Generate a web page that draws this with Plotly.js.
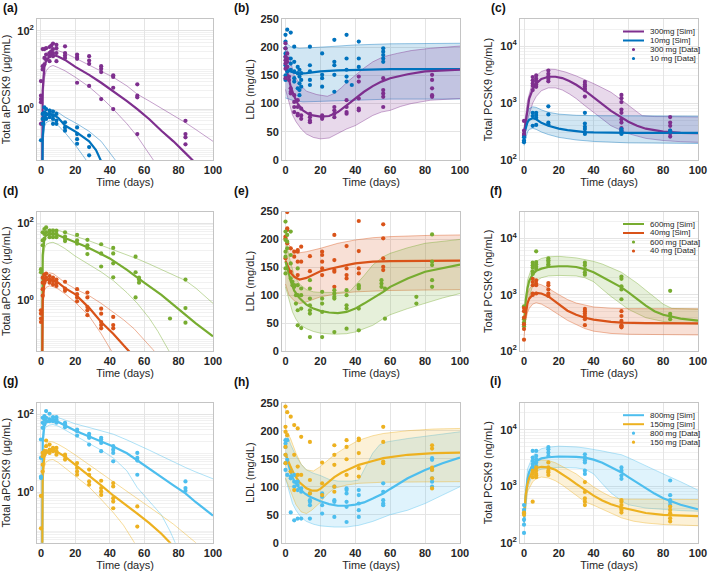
<!DOCTYPE html>
<html><head><meta charset="utf-8">
<script src="https://cdn.plot.ly/plotly-3.0.1.min.js"></script>
<style>html,body{margin:0;padding:0;background:#fff}#chart{width:709px;height:572px}</style>
</head><body><div id="chart"></div>
<script>
// ================= DATA =================
const xTicks=[0,20,40,60,80,100];
const xTickText=['0','20','40','60','80','100'];
const ldlTicks=[0,50,100,150,200,250];
const ldlTickText=['0','50','100','150','200','250'];
const apTickVals=[1,100];
const apTickText=['10<sup>0</sup>','10<sup>2</sup>'];
const pcTickVals=[100,1000,10000];
const pcTickText=['10<sup>2</sup>','10<sup>3</sup>','10<sup>4</sup>'];
const panelLabels=['(a)','(b)','(c)','(d)','(e)','(f)','(g)','(h)','(i)'];
const yTitles=['Total aPCSK9 (μg/mL)','LDL (mg/dL)','Total PCSK9 (ng/mL)'];
const xTitle='Time (days)';
const legendC=['300mg [Sim]','10mg [Sim]','300 mg [Data]','10 mg [Data]'];
const legendF=['600mg [Sim]','40mg [Sim]','600 mg [Data]','40 mg [Data]'];
const legendI=['800mg [Sim]','150mg [Sim]','800 mg [Data]','150 mg [Data]'];

// ---- (a) aPCSK9, 300 mg & 10 mg ----
const a300MedT=[0.7,1,2,3,5,7,10,14,20,28,35,42,50,56,63,70,77,84,90,100];
const a300MedV=[0.01,3,12,17,22,24,22,18,12,7.5,4.7,2.9,1.6,1.0,0.55,0.28,0.15,0.075,0.04,0.015];
const a300UpT=[0.7,1,2,3,5,7,10,14,20,28,35,42,50,56,63,70,77,84,90,100];
const a300UpV=[0.01,5,20,26,31,33,31,27,20,13.5,9.5,6.5,3.9,2.4,1.6,1.05,0.7,0.45,0.3,0.15];
const a300LoT=[0.7,1,2,3,5,7,10,14,20,28,35,42,50,56,60,65,70,75];
const a300LoV=[0.01,1.5,6,9.5,12,13,11.5,9.5,6.5,3.7,2.0,1.0,0.42,0.2,0.11,0.055,0.025,0.01];
const a10MedT=[0.7,1,2,3,5,7,10,14,21,28,32,35,38,42];
const a10MedV=[0.001,0.2,0.55,0.68,0.75,0.72,0.6,0.38,0.25,0.15,0.09,0.05,0.025,0.01];
const a10UpT=[0.7,1,2,3,5,7,10,14,21,28,35,40,44,48];
const a10UpV=[0.001,0.3,0.75,0.9,1.0,0.95,0.82,0.62,0.42,0.27,0.15,0.08,0.045,0.02];
const a10LoT=[0.7,1,2,3,5,7,10,14,20,24,27,30];
const a10LoV=[0.001,0.1,0.35,0.45,0.5,0.48,0.38,0.25,0.12,0.07,0.045,0.02];
const a300DataT=[0,1,2,3,5,6,7,9,14,21,28,35,42,56,84];
const a300DataV=[[5.2,2.2,1.8,1.5,0.42],[34,12.5,10.3],[34,20.3,13.8],[36,24.7,18.5],[38.5,27,22.4,16.7],[41.7,30,24.7],[47,34,27,22.4],[44,36,27,16.7],[40,27,23.3,20.3],[24.7,21.5,19.2,4.7],[22.4,17.4,14.3,3.9],[12.5,10.7,8.8,1.8],[7.3,6.6,3.5,1.0],[4.3,2.2,2.0,0.23],[0.5,0.23,0.19,0.126]];
const a10DataT=[0,1,2,3,5,7,9,14,21,28];
const a10DataV=[[0.16],[0.75,0.56,0.42],[1.1,0.82,0.62],[1.0,0.75,0.56],[0.91,0.75,0.62],[0.86,0.68,0.56,0.42],[0.75,0.51,0.42],[0.46,0.34,0.28],[0.34,0.23,0.17,0.13],[0.21,0.107,0.066]];

// ---- (b) LDL, 300 mg & 10 mg ----
const b10MedT=[0,2,5,8,12,20,30,40,50,60,80,100];
const b10MedV=[162,158,155,153,154,157,159,160,161,161,161,161];
const b10UpT=[0,3,8,15,25,40,60,100];
const b10UpV=[208,201,198,199,201,204,206,207];
const b10LoT=[0,4,10,20,30,40,60,100];
const b10LoV=[110,106,103,104,106,107,108,108];
const b300MedT=[0,1,3,5,7,10,14,20,25,30,35,40,45,50,55,60,70,80,90,100];
const b300MedV=[163,155,130,113,100,88,80,77,78,85,97,109,121,131,139,145,152,157,159,160];
const b300UpT=[0,2,5,8,12,18,24,28,32,36,40,45,50,56,64,72,83,100];
const b300UpV=[205,185,150,135,122,116,113,118,128,140,150,163,174,183,189,194,198,202];
const b300LoT=[0,2,4,6,9,12,16,20,25,30,35,40,45,50,55,60,66,72,83,100];
const b300LoV=[125,100,80,68,55,46,40,37.5,39,47,55,61,70,79,85,88,95,100,106,109];
const b10DataT=[0,1,3,5,7,8,9,14,21,28,35,38,42,56];
const b10DataV=[[222,210,198,189,183,168,150,142],[231,165,157],[226,180,171,160],[201,174,157,145,139],[165,154,127],[160,148,136,124,115],[154,142,130],[201,168,157,142,133],[189,151,145,130],[213,174,168,151,121],[222,180,160,148,139],[133],[210,180,165],[198,192,186,180,174]];
const b300DataT=[0,1,2,3,5,7,9,14,21,28,35,42,56,84];
const b300DataV=[[207,198,183,177,171,162,145],[189,180,174,165],[148,142],[127,121,118],[115,103,94,85],[106,94,82,79],[91,79,73],[82,76,70,67],[79,76,73],[94,88,82,76],[106,94,85,82],[148,139,109,91,88],[145,124,118,112,94],[151,142,127,115,112]];

// ---- (c) PCSK9, 300 mg & 10 mg ----
const c300MedT=[0,1,2,3,5,7,10,14,18,22,26,30,35,40,45,50,56,60,65,70,80,90,100];
const c300MedV=[290,500,850,1200,1750,2200,2650,2900,2900,2750,2450,2100,1650,1250,950,730,560,470,400,355,315,300,295];
const c300UpT=[0,2,5,7,10,14,18,24,30,35,40,45,50,55,60,65,68,75,100];
const c300UpV=[360,1100,2400,3000,3600,3950,3900,3500,3000,2600,2200,1850,1550,1200,900,700,600,580,570];
const c300LoT=[0,2,5,7,10,14,18,22,26,30,35,40,45,50,56,60,70,80,90,100];
const c300LoV=[220,500,1000,1300,1650,1850,1850,1700,1450,1200,900,680,520,400,330,290,240,220,210,205];
const c10MedT=[0,1,2,3,5,7,10,14,20,25,30,35,40,50,60,100];
const c10MedV=[280,380,460,510,540,520,450,400,355,335,320,310,305,302,300,300];
const c10UpT=[0,1,2,3,5,7,10,14,20,30,40,60,100];
const c10UpV=[330,550,700,800,860,840,760,690,640,610,600,595,590];
const c10LoT=[0,1,2,3,5,7,10,14,20,30,40,60,100];
const c10LoV=[180,250,310,345,360,345,310,280,250,225,212,200,195];
const c300DataT=[0,5,7,14,35,56,84];
const c300DataV=[[485,327,287,268],[2870,2510,2200,2010,1690],[3060,2680,2410,2120,1930],[3730,3270,2940,2680,2410],[2350,2120,1980,1810,1690,1300],[1390,1220,1040,769,674,518,454,363,327],[567,454,398,327,294,258]];
const c10DataT=[0,5,7,14,35,56,84];
const c10DataV=[[251,220,206],[674,591,398],[674,615,553,414],[877,631,454,425],[674,437,383,349,306,287],[349,327,306,287],[327,306]];

// ---- (d) aPCSK9, 600 mg & 40 mg ----
const d600MedT=[0.7,1,2,3,5,7,10,14,20,27,35,40,50,57,60,70,80,84,90,100];
const d600MedV=[0.01,15,40,48,53,54,49,42,32,24,16,12.3,6.2,3.5,2.9,1.4,0.6,0.42,0.26,0.12];
const d600UpT=[0.7,1,2,3,5,7,10,14,20,28,35,42,50,56,63,70,77,84,90,100];
const d600UpV=[0.01,20,55,65,70,71,66,58,46,35,27,21,15.5,12,8.8,6.3,4.5,3.3,2.1,0.85];
const d600LoT=[0.7,1,2,3,5,7,10,14,20,28,35,42,50,56,63,68,72,75,78];
const d600LoV=[0.01,8,22,28,31,32,28,22,14,8.5,5.5,3.3,1.6,0.85,0.35,0.16,0.08,0.045,0.02];
const d40MedT=[0.7,1,2,3,5,7,10,14,20,28,35,42,48,52,56];
const d40MedV=[0.005,1.0,2.8,3.3,3.5,3.4,2.9,2.1,1.45,0.65,0.28,0.14,0.07,0.045,0.025];
const d40UpT=[0.7,1,2,3,5,7,10,14,20,28,35,42,48,54,60,65,70];
const d40UpV=[0.005,1.5,4.2,4.9,5.2,5.0,4.0,2.9,2.0,1.34,0.85,0.51,0.32,0.19,0.1,0.055,0.03];
const d40LoT=[0.7,1,2,3,5,7,10,14,20,28,35,40,45];
const d40LoV=[0.005,0.6,1.8,2.2,2.4,2.3,2.0,1.5,0.9,0.4,0.14,0.06,0.025];
const d600DataT=[0,1,2,3,5,7,9,14,21,27,35,42,55,57,75,84];
const d600DataV=[[6.5,5.4],[58.2,35.9,26.9],[70.6,52.8,39.5],[77.8,58.2],[64.1,52.8,43.5],[64.1,52.8,43.5],[64.1,52.8,43.5],[58.2,45.2,39.5,34.5],[49.8,35.9,29.6],[37.2,26.9,23.0,15.9],[28.5,16.5,7.6],[23.0,16.5,9.2,4.0],[13.6,5.4,1.21],[3.9,3.5,2.9],[0.345],[3.5,0.64,0.27]];
const d40DataT=[0,1,2,3,5,7,9,14,21,27,35,42];
const d40DataV=[[0.56,0.46,0.345,0.28],[3.9,2.9,1.97,1.34],[4.7,3.5,2.9],[5.0,3.9],[4.3,3.5,2.9],[3.9,3.2,2.6],[3.5,2.9,2.4],[3.07,2.05,1.79],[1.97,1.47,1.21,0.96],[1.62,1.21,0.68,0.56,0.42],[0.62,0.46,0.28,0.234,0.193],[0.38,0.234,0.193]];

// ---- (e) LDL, 600 mg & 40 mg ----
const e40MedT=[0,1,3,5,8,12,16,20,25,30,35,40,50,60,80,100];
const e40MedV=[162,155,140,133,128,131,137,143,147,151,154,157,160,161,162,162];
const e40UpT=[0,2,5,8,12,20,30,40,50,60,80,100];
const e40UpV=[205,190,180,176,178,184,193,199,203,205,207,208];
const e40LoT=[0,2,5,8,12,20,30,40,60,100];
const e40LoV=[120,100,90,85,88,97,103,106,108.5,110];
const e600MedT=[0,1,3,5,8,12,16,20,25,30,35,40,45,50,56,60,65,70,80,90,100];
const e600MedV=[160,150,125,108,95,83,76,72,69,68,70,76,85,94,106,115,123,130,142,149,155];
const e600UpT=[0,2,5,8,12,16,20,30,37,40,45,50,56,60,70,80,90,100];
const e600UpV=[200,170,135,120,110,106,105,105,107,117,135,154,169,175,185,193,197,200];
const e600LoT=[0,2,4,6,8,12,16,20,28,35,40,45,50,56,60,70,80,90,100];
const e600LoV=[115,90,70,57,48,40,35,32,30,31,34,40,46,58,65,76,86,95,103];
const e40DataT=[0,1,3,5,7,9,14,21,28,35,42,56];
const e40DataV=[[205,202,166],[249,220,217,193],[184,142],[178,169],[181,178,160,136],[187,160],[170,143],[178,172,160,148,136],[208,163,145,142,115],[188,148,136,130],[233,179,148,139],[227,202,166,151,145]];
const e600DataT=[0,1,3,4,5,6,7,9,14,21,28,35,42,55,57,75,84];
const e600DataV=[[232,214,199,178,169,148,139],[208,196,184],[214,172,157,130],[124,118],[118,115],[100,85],[148,118,100,73,46],[112,100,76,41],[127,112,94,82,73,67,25],[106,94,85,70,25],[109,103,97,94,34],[109,100,82,76,40],[118,115,112,76,37],[127,121,115],[112,58],[97,85],[209,160,154,127,115]];

// ---- (f) PCSK9, 600 mg & 40 mg ----
const f600MedT=[0,1,2,3,5,7,10,14,20,25,30,35,40,45,50,56,60,65,70,75,80,90,100];
const f600MedV=[300,800,1300,1750,2300,2650,2900,3100,3200,3200,3100,2850,2500,2050,1700,1350,1100,830,640,510,440,375,345];
const f600UpT=[0,2,5,7,10,14,20,25,30,35,40,45,50,56,60,65,70,75,80,85,90,100];
const f600UpV=[380,1800,3400,3900,4400,4700,4800,4700,4500,4200,3900,3500,3000,2500,2050,1600,1200,900,680,570,560,555];
const f600LoT=[0,2,5,7,10,14,20,25,30,35,40,45,50,56,60,70,80,90,100];
const f600LoV=[230,700,1450,1750,2000,2150,2200,2200,2150,2000,1700,1250,930,680,550,390,335,310,300];
const f40MedT=[0,1,2,3,5,7,10,14,20,25,30,35,40,45,50,56,70,100];
const f40MedV=[280,500,700,850,1000,1080,1050,930,680,520,440,390,360,340,328,320,313,310];
const f40UpT=[0,1,2,3,5,7,10,14,20,25,30,35,40,50,60,100];
const f40UpV=[350,700,1000,1250,1500,1580,1500,1300,1000,820,710,650,605,575,565,560];
const f40LoT=[0,1,2,3,5,7,10,14,20,25,30,35,40,50,60,100];
const f40LoV=[180,350,480,570,680,720,680,580,440,350,295,250,225,205,198,193];
const f600DataT=[0,5,7,14,35,56,84];
const f600DataV=[[621,366,320,274],[3700,3330,3040,2590,2330],[5890,3800,3470,3120,2850],[4400,4070,3800,3470,3240],[3700,3330,2850,2490,2270],[2100,1910,1410,1240,830],[1170,458,418,366]];
const f40DataT=[0,5,7,14,35,56];
const f40DataV=[[580,509,391,300,246,159],[1910,1680,1470,1050,990],[1790,1570,1470,1050],[1610,1470,1240,1050,950],[559,509,464,418,366,288],[509,418,342,288,274,263]];

// ---- (g) aPCSK9, 800 mg & 150 mg ----
const g800MedT=[0.7,1,2,3,5,7,10,14,20,28,35,42,50,56,63,70,77,84,90,100];
const g800MedV=[0.01,20,55,62,66,67,64,52,38,27,20,15,10,6.5,4.0,2.4,1.5,0.93,0.55,0.25];
const g800UpT=[0.7,1,2,3,5,7,10,14,20,28,35,42,50,56,63,70,77,84,90,100];
const g800UpV=[0.01,30,70,80,85,87,83,72,57,46,38,31,22,17,12,8.5,6.0,4.3,3.3,2.2];
const g800LoT=[0.7,1,2,3,5,7,10,14,20,28,35,42,50,56,63,70,75,78,82];
const g800LoV=[0.01,12,40,48,53,55,50,40,28,18.5,12,7.6,3.5,1.3,0.6,0.26,0.1,0.05,0.02];
const g150MedT=[0.7,1,2,3,5,7,10,14,20,28,35,42,50,56,63,70,75,80];
const g150MedV=[0.005,3,8,10,11.5,11.7,10.5,8.2,5.0,2.7,1.5,0.82,0.45,0.28,0.16,0.085,0.05,0.025];
const g150UpT=[0.7,1,2,3,5,7,10,14,20,28,35,42,50,56,63,70,77,84,90,95];
const g150UpV=[0.005,5,14,18,20,19.5,17,13.5,9,5.1,3.1,1.9,1.05,0.7,0.42,0.25,0.15,0.085,0.05,0.03];
const g150LoT=[0.7,1,2,3,5,7,10,14,20,28,35,42,48,52,55,58];
const g150LoV=[0.005,1.5,4.5,6,6.7,6.9,5.8,4.2,2.5,1.35,0.65,0.3,0.14,0.075,0.045,0.025];
const g800DataT=[0,1,2,3,5,7,9,14,21,28,35,42,56,84];
const g800DataV=[[22.6,7.6,2.5,2.3],[82,60.9,45.2],[90.6,74.3,55.1],[122,82,67.3],[104,74.3,67.3],[85.3,74.3,67.3],[85.3,74.3,67.3,60.9],[60.9,55.1,47],[40.9,37,28.6],[31.6,27.5,24.9,16.7],[24.9,22.6,18.5,11.3],[15.2,12.4,10.2,6.2],[10.2,7.6,6.5,2.8],[1.89,1.27,1.08]];
const g150DataT=[0,1,2,3,5,7,9,14,21,28,35,42,56];
const g150DataV=[[0.8,0.117],[10.2,8.4,5.1,3.4],[11.3,10.2],[21.3,15.2,11.3],[16.7,12.4,10.2],[13.7,12.4,11.3],[13.7,11.3,9.2],[9.2,8.4,6.9],[5.6,4.2,3.4,2.8],[3.8,2.8,1.89,1.55],[1.96,1.27,1.04,0.85],[1.71,1.4,0.7,0.57,0.385],[0.43,0.13]];

// ---- (h) LDL, 800 mg & 150 mg ----
const h150MedT=[0,1,3,5,8,12,15,18,20,24,28,32,36,42,50,56,70,85,100];
const h150MedV=[160,150,135,122,108,97,93,93,96,106,117,125,131,139,146,151,157,160,161];
const h150UpT=[0,3,6,9,12,16,20,24,28,35,42,50,56,70,85,100];
const h150UpV=[205,185,160,140,130,128,136,146,157,171,183,191,195,200,203,204];
const h150LoT=[0,3,6,9,12,15,20,24,28,35,42,56,100];
const h150LoV=[115,90,68,55,52,58,72,87,97,103,106,108,109];
const h800MedT=[0,1,3,5,8,11,14,20,25,30,35,40,45,50,56,60,65,70,80,90,100];
const h800MedV=[160,148,125,110,97,88,82,74,69,66,66,68,72,79,88,96,106,115,130,142,152];
const h800UpT=[0,3,6,9,12,16,20,25,30,38,42,46,50,54,58,70,85,100];
const h800UpV=[200,175,155,140,130,124,120,113,110,110,112,135,160,175,180,186,192,198];
const h800LoT=[0,2,4,6,9,12,16,20,28,35,42,50,56,60,70,80,90,100];
const h800LoV=[115,90,70,58,45,38,33,30,28,28,31,38,46,50,58,70,85,100];
const h150DataT=[0,1,3,5,7,9,14,21,28,35,42,56,84];
const h150DataV=[[243,207,198,171,157,142],[233,192],[225,127],[210,157,94],[204,136,121],[189,121],[180,112,88],[143,106,85],[174,157,139,100,91],[183,171,149,121],[186,183,160,133,118],[207,180,145,142],[174,168,134,130,115,97]];
const h800DataT=[0,1,3,5,7,9,14,21,28,35,42,56,84];
const h800DataV=[[183,177,171,157,142,130],[183,148,121],[127,118,115,54],[121,109,100,40],[109,103,94,43],[97,91,43],[88,76,73,67,43],[88,82,67,52],[100,76,73,46],[97,94,88,73,64,37],[94,85,70,58,46],[106,91,76,70,67],[151,148,130,115,109,100]];

// ---- (i) PCSK9, 800 mg & 150 mg ----
const i800MedT=[0,1,2,3,5,7,10,14,20,25,30,35,40,45,50,56,60,65,70,75,80,90,100];
const i800MedV=[230,700,1300,1800,2400,2800,3100,3250,3350,3350,3300,3200,2950,2600,2200,1750,1450,1150,900,740,610,470,390];
const i800UpT=[0,2,5,7,10,14,20,25,30,35,40,45,50,56,60,65,70,75,80,90,100];
const i800UpV=[340,2000,3400,4000,4600,4900,5100,5100,4950,4750,4500,4200,3900,3600,3200,2700,2300,1950,1650,1200,850];
const i800LoT=[0,2,5,7,10,14,20,25,30,35,40,45,50,56,60,70,80,90,100];
const i800LoV=[200,900,1650,1850,2000,2100,2150,2150,2100,2000,1650,1100,760,550,470,410,385,370,360];
const i150MedT=[0,1,2,3,5,7,10,14,18,22,26,30,35,40,45,50,56,63,70,80,100];
const i150MedV=[300,700,1100,1400,1850,2100,2200,2150,1950,1650,1350,1100,850,680,560,480,420,370,335,310,295];
const i150UpT=[0,2,5,7,10,14,18,22,26,30,35,40,45,50,56,70,100];
const i150UpV=[350,1600,2450,2750,2900,2850,2600,2250,1950,1650,1260,970,780,650,590,585,580];
const i150LoT=[0,2,5,7,10,14,18,22,26,30,35,40,45,50,56,63,70,80,100];
const i150LoV=[200,800,1200,1350,1450,1400,1250,1050,850,690,530,460,390,330,275,240,223,210,200];
const i800DataT=[0,5,7,14,35,56,84];
const i800DataV=[[464,380,333,255,208,149],[4200,3210,2810,2460,2150],[4200,3430,3000,2630,2300],[4930,4490,3930,3430],[3670,3210,2890,2630,1880,1650],[2150,1880,1540,1350],[1260,693,567,531,464]];
const i150DataT=[0,5,7,14,35,56,84];
const i150DataV=[[341,311],[531,1880,1760,1650,1440],[2150,1880,1650,1540,1440],[2630,2150,1880,1760,1585],[1180,792,607,531,464],[567,531,464,406,380,341],[435,380,333,272,238]];

// ================= STYLE / BUILD =================
const COL={purple:'#7E2F8E',blue:'#0072BD',green:'#77AC30',orange:'#D95319',cyan:'#4DBEEE',yellow:'#EDB120'};
function rgba(hex,a){const n=parseInt(hex.slice(1),16);return 'rgba('+(n>>16&255)+','+(n>>8&255)+','+(n&255)+','+a+')';}
function axn(i){return i===1?['x','y']:['x'+i,'y'+i];}
function lineTr(i,t,v,color,width,extra){const a=axn(i);return Object.assign({type:'scatter',mode:'lines',x:t,y:v,xaxis:a[0],yaxis:a[1],line:{color:color,width:width},hoverinfo:'skip',showlegend:false},extra||{});}
function dotTr(i,T,V,color){const xs=[],ys=[];T.forEach((t,k)=>V[k].forEach(v=>{xs.push(t);ys.push(v);}));const a=axn(i);return {type:'scatter',mode:'markers',x:xs,y:ys,xaxis:a[0],yaxis:a[1],marker:{color:color,size:4.2,line:{width:0}},showlegend:false,hoverinfo:'skip'};}
const traces=[];
function pkPanel(i,A,B){
  [A,B].forEach(d=>{traces.push(lineTr(i,d.loT,d.loV,rgba(d.c,0.45),1));traces.push(lineTr(i,d.upT,d.upV,rgba(d.c,0.45),1));});
  [A,B].forEach(d=>traces.push(lineTr(i,d.medT,d.medV,d.c,2.2)));
  [A,B].forEach(d=>traces.push(dotTr(i,d.dT,d.dV,d.c)));
}
function bandPanel(i,A,B){
  [A,B].forEach(d=>{traces.push(lineTr(i,d.loT,d.loV,rgba(d.c,0.45),0.9));traces.push(lineTr(i,d.upT,d.upV,rgba(d.c,0.45),0.9,{fill:'tonexty',fillcolor:rgba(d.c,0.18)}));});
  [A,B].forEach(d=>traces.push(lineTr(i,d.medT,d.medV,d.c,2.2)));
  [A,B].forEach(d=>traces.push(dotTr(i,d.dT,d.dV,d.c)));
}
pkPanel(1,{c:COL.purple,medT:a300MedT,medV:a300MedV,upT:a300UpT,upV:a300UpV,loT:a300LoT,loV:a300LoV,dT:a300DataT,dV:a300DataV},
          {c:COL.blue,medT:a10MedT,medV:a10MedV,upT:a10UpT,upV:a10UpV,loT:a10LoT,loV:a10LoV,dT:a10DataT,dV:a10DataV});
bandPanel(2,{c:COL.blue,medT:b10MedT,medV:b10MedV,upT:b10UpT,upV:b10UpV,loT:b10LoT,loV:b10LoV,dT:b10DataT,dV:b10DataV},
            {c:COL.purple,medT:b300MedT,medV:b300MedV,upT:b300UpT,upV:b300UpV,loT:b300LoT,loV:b300LoV,dT:b300DataT,dV:b300DataV});
bandPanel(3,{c:COL.purple,medT:c300MedT,medV:c300MedV,upT:c300UpT,upV:c300UpV,loT:c300LoT,loV:c300LoV,dT:c300DataT,dV:c300DataV},
            {c:COL.blue,medT:c10MedT,medV:c10MedV,upT:c10UpT,upV:c10UpV,loT:c10LoT,loV:c10LoV,dT:c10DataT,dV:c10DataV});
pkPanel(4,{c:COL.green,medT:d600MedT,medV:d600MedV,upT:d600UpT,upV:d600UpV,loT:d600LoT,loV:d600LoV,dT:d600DataT,dV:d600DataV},
          {c:COL.orange,medT:d40MedT,medV:d40MedV,upT:d40UpT,upV:d40UpV,loT:d40LoT,loV:d40LoV,dT:d40DataT,dV:d40DataV});
bandPanel(5,{c:COL.orange,medT:e40MedT,medV:e40MedV,upT:e40UpT,upV:e40UpV,loT:e40LoT,loV:e40LoV,dT:e40DataT,dV:e40DataV},
            {c:COL.green,medT:e600MedT,medV:e600MedV,upT:e600UpT,upV:e600UpV,loT:e600LoT,loV:e600LoV,dT:e600DataT,dV:e600DataV});
bandPanel(6,{c:COL.green,medT:f600MedT,medV:f600MedV,upT:f600UpT,upV:f600UpV,loT:f600LoT,loV:f600LoV,dT:f600DataT,dV:f600DataV},
            {c:COL.orange,medT:f40MedT,medV:f40MedV,upT:f40UpT,upV:f40UpV,loT:f40LoT,loV:f40LoV,dT:f40DataT,dV:f40DataV});
pkPanel(7,{c:COL.cyan,medT:g800MedT,medV:g800MedV,upT:g800UpT,upV:g800UpV,loT:g800LoT,loV:g800LoV,dT:g800DataT,dV:g800DataV},
          {c:COL.yellow,medT:g150MedT,medV:g150MedV,upT:g150UpT,upV:g150UpV,loT:g150LoT,loV:g150LoV,dT:g150DataT,dV:g150DataV});
bandPanel(8,{c:COL.cyan,medT:h800MedT,medV:h800MedV,upT:h800UpT,upV:h800UpV,loT:h800LoT,loV:h800LoV,dT:h800DataT,dV:h800DataV},
            {c:COL.yellow,medT:h150MedT,medV:h150MedV,upT:h150UpT,upV:h150UpV,loT:h150LoT,loV:h150LoV,dT:h150DataT,dV:h150DataV});
bandPanel(9,{c:COL.cyan,medT:i800MedT,medV:i800MedV,upT:i800UpT,upV:i800UpV,loT:i800LoT,loV:i800LoV,dT:i800DataT,dV:i800DataV},
            {c:COL.yellow,medT:i150MedT,medV:i150MedV,upT:i150UpT,upV:i150UpV,loT:i150LoT,loV:i150LoV,dT:i150DataT,dV:i150DataV});

// ---- layout ----
const W=709,H=572;
const colPx=[[37,213],[282,460],[520,698]];
const rowPx=[[19,160],[211.5,351],[402.7,542.7]];
const labelPos=[[1,8],[232,8],[489,8],[1,191],[232,191],[488,191],[1,381],[232,382],[488,381]];
const FONT='Liberation Sans, Arial, Helvetica, sans-serif';
const TXT='#262626';
const bold=arr=>arr.map(s=>'<b>'+s+'</b>');
const layout={width:W,height:H,margin:{l:0,r:0,t:0,b:0,pad:0},paper_bgcolor:'#fff',plot_bgcolor:'#fff',showlegend:false,
  font:{family:FONT,color:TXT,size:11},annotations:[],shapes:[]};
for(let r=0;r<3;r++){for(let c=0;c<3;c++){
  const i=r*3+c+1; const sfx=i===1?'':String(i);
  const xd=[colPx[c][0]/W,colPx[c][1]/W]; const yd=[1-rowPx[r][1]/H,1-rowPx[r][0]/H];
  const common={showgrid:true,gridcolor:'#e4e4e4',gridwidth:1,showline:true,mirror:true,linecolor:'#c4c4c4',linewidth:1,
    zeroline:false,ticks:'',tickfont:{family:FONT,size:11,color:TXT},ticklabeloverflow:'allow',automargin:false,fixedrange:true};
  layout['xaxis'+sfx]=Object.assign({},common,{domain:xd,anchor:'y'+sfx,range:c===1?[-2,100]:[-2.3,100],tickmode:'array',tickvals:xTicks,ticktext:bold(xTickText),
    title:{text:xTitle,font:{family:FONT,size:11,color:TXT},standoff:3}});
  let ya={domain:yd,anchor:'x'+sfx,title:{text:yTitles[c],font:{family:FONT,size:11,color:TXT}}};
  if(c===0){Object.assign(ya,{type:'log',range:[Math.log10(0.05),Math.log10(200)],tickmode:'array',tickvals:apTickVals,ticktext:bold(apTickText),
      minor:{dtick:'D1',showgrid:true,gridcolor:'#f1f1f1',ticks:''}});ya.title.standoff=5;}
  else if(c===1){Object.assign(ya,{range:[0,250],tickmode:'array',tickvals:ldlTicks,ticktext:bold(ldlTickText)});ya.title.standoff=3;}
  else {Object.assign(ya,{type:'log',range:[2,Math.log10(30000)],tickmode:'array',tickvals:pcTickVals,ticktext:bold(pcTickText),
      minor:{dtick:'D1',showgrid:true,gridcolor:'#f1f1f1',ticks:''}});ya.title.standoff=5;}
  layout['yaxis'+sfx]=Object.assign({},common,ya);
  layout.annotations.push({xref:'paper',yref:'paper',x:labelPos[i-1][0]/W,y:1-labelPos[i-1][1]/H,xanchor:'left',yanchor:'middle',showarrow:false,
    text:'<b>'+panelLabels[i-1]+'</b>',font:{family:FONT,size:12,color:'#111'}});
}}
// manual legends (c), (f), (i)
const legSets=[[0,legendC,[COL.purple,COL.blue]],[1,legendF,[COL.green,COL.orange]],[2,legendI,[COL.cyan,COL.yellow]]];
legSets.forEach(([r,labels,cols])=>{
  const top=rowPx[r][0]; const offs=[12.5,21.5,30.5,39.5];
  labels.forEach((lab,k)=>{
    const ypx=top+offs[k]; const yp=1-ypx/H; const col=cols[k%2];
    if(k<2){layout.shapes.push({type:'line',xref:'paper',yref:'paper',x0:623/W,x1:644/W,y0:yp,y1:yp,line:{color:col,width:2}});}
    else {layout.shapes.push({type:'circle',xref:'paper',yref:'paper',x0:(633.5-1.6)/W,x1:(633.5+1.6)/W,y0:yp-1.6/H,y1:yp+1.6/H,fillcolor:col,line:{width:0}});}
    layout.annotations.push({xref:'paper',yref:'paper',x:648/W,y:yp,xanchor:'left',yanchor:'middle',showarrow:false,text:lab,
      font:{family:FONT,size:8,color:TXT}});
  });
});
Plotly.newPlot('chart',traces,layout,{displayModeBar:false,staticPlot:true});
</script></body></html>
